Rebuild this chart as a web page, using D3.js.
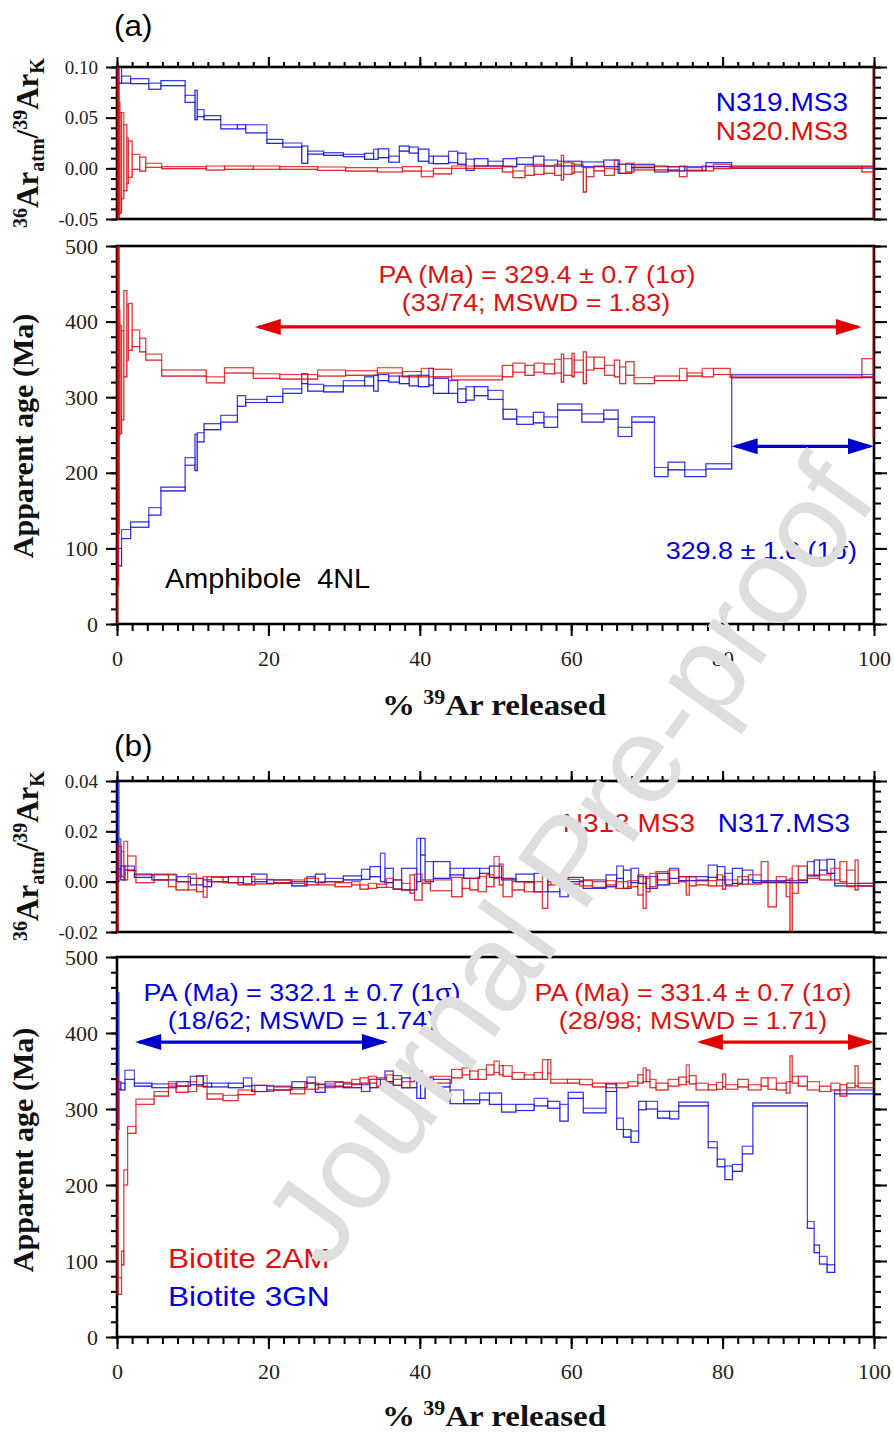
<!DOCTYPE html>
<html>
<head>
<meta charset="utf-8">
<script src="https://cdn.jsdelivr.net/npm/d3@7.9.0/dist/d3.min.js"></script>
<style>
  body { margin: 0; background: #fff; }
  svg { display: block; }
</style>
</head>
<body>
<svg id="fig" width="894" height="1434"></svg>
<script>
// ---------- data: step edges (% 39Ar released) and [low, high] bounds per step ----------

// panel (a), N320.MS3 (red)
const aRedEdges = [0,0.1,0.2,0.3,0.4,0.6,0.9,1.3,1.5,2.0,3.0,3.8,5.9,11.8,14.2,18.0,21.5,26.5,30.2,34.4,
  37.7,40.2,41.8,44.2,50.9,52.3,53.9,55.1,56.4,57.8,58.7,59.0,60.1,60.4,61.6,62.0,63.0,64.4,65.7,66.4,
  67.2,68.3,71.0,74.3,75.3,77.3,78.8,81.0,98.4,99.9,100];
const aRedAge = [[-100,700],[50,650],[120,560],[250,415],[252,395],[270,388],[327,441],[349,422],[362,424],[367,389],
  [360,378],[349,357],[328,336],[319,327],[332,339],[325,331],[324,330],[328,336],[329,335],[332,339],
  [327,334],[327,338],[327,337],[323,328],[327,342],[333,345],[329,342],[333,345],[331,344],[332,350],
  [320,357],[329,351],[327,358],[333,349],[318,360],[336,353],[338,353],[329,342],[327,349],[318,340],
  [329,347],[318,326],[322,328],[322,338],[328,332],[327,338],[330,338],[326,328],[327,351],[247,700]];
const aRedRatio = [[-0.08,0.15],[-0.07,0.13],[-0.06,0.11],[-0.045,0.065],[-0.044,0.055],[-0.03,0.055],[-0.022,0.043],[-0.015,0.03],[-0.009,0.027],[-0.001,0.0138],
  [-0.0027,0.011],[0.001,0.0049],[-0.0003,0.0017],[-0.0017,0.0023],[-0.001,0.0023],[-0.001,0.0023],[-0.001,0.0017],[-0.002,0.0013],[-0.0027,0.0007],[-0.0036,0.0007],
  [-0.0027,0.0017],[-0.0083,-0.0027],[-0.0055,0],[0,0.0023],[-0.0036,0.0023],[-0.0092,-0.0026],[-0.0069,0.0023],[-0.006,0.004],[-0.005,0.0023],[-0.007,0.004],
  [-0.0115,0.0128],[-0.006,0.0056],[-0.005,0.005],[-0.0036,0.004],[-0.0234,0.0007],[-0.0082,0.0007],[-0.0026,0.0023],[-0.007,-0.0003],[-0.001,0.0082],[-0.005,0.004],
  [-0.0036,0.005],[-0.0016,0.0023],[-0.0016,0.0016],[-0.0082,0.0023],[-0.0026,0.0007],[-0.0026,0.0023],[-0.0003,0.004],[0,0.0016],[-0.0036,0.0016],[-0.08,0.15]];

// panel (a), N319.MS3 (blue)
const aBlueEdges = [0,0.6,1.8,4.2,5.8,9.0,10.3,10.6,11.5,13.7,15.9,17.0,19.8,21.9,24.4,25.2,27.3,29.9,32.7,33.9,
  34.5,35.9,37.3,38.6,39.8,41.2,41.8,43.8,45.0,46.1,47.2,49.0,51.0,52.8,55.0,56.4,58.2,61.4,64.3,66.2,
  68.0,71.0,72.8,75.0,77.8,81.2,100];
const aBlueAge = [[77,100],[113,125],[128,135],[144,154],[176,181],[210,220],[203,251],[241,253],[257,265],[267,276],
  [288,302],[293,297],[293,301],[305,311],[318,331],[308,317],[307,315],[315,322],[315,327],[308,329],
  [322,330],[320,328],[318,328],[315,329],[314,329],[316,338],[305,325],[305,322],[293,311],[296,314],
  [302,314],[297,309],[271,284],[264,274],[266,280],[260,274],[283,291],[267,278],[271,283],[248,260],
  [267,274],[195,207],[204,214],[195,204],[205,212],[326,330]];
const aBlueRatio = [[0.084,0.104],[0.084,0.091],[0.0836,0.0885],[0.078,0.084],[0.0816,0.0866],[0.065,0.072],[0.048,0.077],[0.051,0.058],[0.048,0.052],[0.039,0.043],
  [0.039,0.043],[0.035,0.043],[0.0246,0.0285],[0.021,0.025],[0.005,0.022],[0.014,0.017],[0.0128,0.0154],[0.0115,0.0138],[0.0089,0.0148],[0.0089,0.0187],
  [0.0105,0.0193],[0.006,0.012],[0.017,0.022],[0.015,0.021],[0.007,0.019],[0.005,0.012],[0.0046,0.012],[0.0056,0.0168],[0.004,0.015],[-0.002,0.009],
  [0.0023,0.0095],[0.0023,0.007],[0.0016,0.0095],[0.004,0.0105],[0.0023,0.012],[0.0023,0.0082],[0.0023,0.007],[0.0016,0.0063],[0.0016,0.0082],[-0.005,0.004],
  [0.0007,0.004],[-0.0036,0.0023],[-0.0026,0.0016],[-0.002,0.0016],[0.0016,0.0056],[0.0003,0.0023]];

// panel (b), N318.MS3 (red)
const bRedEdges = [0,0.15,0.6,0.9,1.4,2.5,4.9,6.8,7.8,9.4,10.5,11.4,11.9,14.0,16.0,18.2,20.7,22.9,24.8,26.6,
  28.8,31.0,32.1,33.2,34.3,35.6,36.5,37.6,38.7,39.3,40.3,41.4,44.2,45.6,46.6,47.7,48.8,49.8,50.5,51.0,
  52.2,53.8,55.1,56.2,56.9,57.3,59.5,61.1,62.8,64.6,65.9,67.5,68.8,69.5,69.9,70.4,71.2,72.8,74.2,75.2,
  75.6,76.5,78.1,79.2,80.0,80.4,82.0,83.4,85.1,86.0,87.1,88.4,88.9,89.2,90.0,91.2,92.8,94.3,95.5,96.4,
  97.5,97.9,100];
const bRedAge = [[56,343],[56,78],[95,113],[200,220],[268,277],[306,313],[317,323],[330,336],[322,330],[323,336],
  [330,344],[330,344],[313,320],[311,318],[319,325],[323,331],[325,329],[320,326],[326,334],[328,333],
  [329,335],[332,339],[334,341],[334,343],[330,341],[334,345],[331,339],[328,336],[336,350],[343,350],
  [334,341],[334,343],[341,352],[345,354],[339,350],[339,352],[345,358],[348,363],[345,357],[343,357],
  [339,348],[339,345],[339,348],[339,365],[347,365],[334,339],[334,339],[332,339],[329,334],[328,334],
  [328,334],[330,336],[334,345],[336,354],[336,351],[328,339],[325,334],[330,339],[332,342],[336,358],
  [333,344],[325,334],[325,332],[326,335],[329,346],[326,332],[329,339],[325,332],[330,341],[326,341],
  [325,334],[321,336],[336,370],[334,343],[330,343],[325,336],[323,330],[325,334],[317,332],[328,334],
  [330,357],[328,334]];
const bRedRatio = [[-0.025,0.015],[0.0023,0.014],[0.002,0.012],[0.0007,0.016],[0.0044,0.0102],[-0.0004,0.0027],[0.0007,0.003],[-0.002,0.003],[-0.0033,0],[-0.0033,0.003],
  [-0.004,0.0013],[-0.0062,0.002],[0,0.002],[-0.0004,0.002],[-0.0013,0.002],[-0.0009,0.0009],[-0.0004,0.0007],[-0.0007,0.0007],[-0.0013,0.0013],[-0.0013,0],
  [-0.002,-0.0004],[-0.0013,0],[-0.003,-0.0013],[-0.0027,-0.0007],[-0.0023,-0.001],[-0.0023,0.0013],[-0.003,0.0007],[-0.0033,-0.0007],[-0.0046,0.0027],[-0.0073,0.003],
  [-0.0007,0.0007],[-0.0036,0.0007],[-0.006,0.0017],[-0.0027,0.0013],[-0.0033,0.0013],[-0.004,0.002],[-0.002,0.0027],[0.0013,0.01],[-0.0013,0.007],[-0.006,0.0013],
  [-0.0033,0],[-0.004,-0.0004],[-0.004,0],[-0.0106,0.0027],[-0.0013,0.0009],[-0.0013,0.0009],[-0.001,0.0009],[-0.0017,0.0004],[-0.0023,0],[-0.0013,0.0004],
  [-0.0027,0],[-0.002,0.0004],[-0.0053,0.0027],[-0.0106,0.002],[-0.004,0.0013],[-0.002,0.0033],[0.0007,0.004],[-0.0007,0.0046],[0,0.002],[-0.0053,0.002],
  [-0.0017,0.002],[-0.0013,0.0007],[-0.0017,0.0004],[-0.0017,0.0027],[-0.003,0.002],[-0.0017,0.0007],[-0.001,0.002],[-0.001,0.0027],[0,0.008],[-0.01,0],
  [0,0.002],[-0.006,0.0007],[-0.0206,0.0013],[-0.0046,0.0062],[0.0007,0.0062],[0.0013,0.0027],[0.0007,0.0027],[0.0007,0.0053],[0,0.008],[-0.002,0.0046],
  [-0.0033,0.0086],[-0.0017,-0.0007]];

// panel (b), N317.MS3 (blue)
const bBlueEdges = [0,0.25,0.5,1.05,2.3,4.6,7.9,9.7,11.4,12.5,14.7,16.7,17.8,19.8,23.1,25.1,26.2,27.5,29.9,32.3,
  33.4,34.8,35.4,36.5,37.6,39.6,40.1,40.7,41.8,44.0,45.8,47.9,49.2,50.8,52.7,55.1,56.9,58.5,59.6,61.6,
  64.6,66.0,66.9,67.9,68.9,69.9,71.4,73.0,74.2,78.1,79.3,80.3,81.3,82.6,84.0,91.2,92.1,92.8,93.8,94.8,100];
const bBlueAge = [[273,453],[326,336],[325,334],[339,351],[330,334],[328,333],[330,336],[332,343],[329,334],[329,334],
  [328,334],[330,341],[323,331],[325,330],[328,336],[334,342],[322,332],[330,336],[328,333],[323,332],
  [328,339],[328,339],[336,350],[331,344],[328,341],[314,336],[314,336],[330,341],[329,339],[307,325],
  [307,312],[312,321],[306,321],[296,306],[298,306],[304,314],[301,310],[284,306],[314,322],[295,301],
  [323,333],[273,288],[263,273],[256,271],[299,310],[300,310],[288,297],[287,297],[304,309],[249,257],
  [224,234],[207,225],[218,227],[241,251],[304,308],[143,152],[111,121],[96,106],[85,95],[320,325]];
const bBlueRatio = [[0,0.045],[0.005,0.017],[0.0007,0.0062],[0.0046,0.0062],[0.0017,0.003],[0.0007,0.0027],[0,0.002],[-0.0013,0.0013],[-0.002,0.0007],[0,0.0017],
  [-0.0004,0.002],[-0.0009,0.002],[0,0.003],[-0.0007,0.0007],[-0.0017,0],[0,0.002],[-0.0004,0.003],[0,0.0013],[0.0007,0.0023],[0.0009,0.0049],
  [0.002,0.006],[0,0.0113],[-0.0004,0.0053],[-0.003,0.0007],[-0.0033,0.0053],[0,0.0172],[0.0106,0.0172],[0,0.008],[0.0013,0.008],[0.0027,0.0053],
  [0.0013,0.0053],[0.0033,0.0053],[0.0017,0.0062],[0.0007,0.0013],[0,0.003],[-0.004,0.0033],[-0.004,0],[-0.006,-0.0013],[0,0.0017],[-0.0027,0.0007],
  [-0.002,0.0027],[0.0013,0.0062],[-0.0027,0.0046],[-0.0004,0.0053],[-0.0007,0.002],[-0.0027,0.002],[-0.0013,0.0033],[0.0013,0.0053],[0.0004,0.002],[0.0017,0.0066],
  [0.0007,0.006],[-0.0013,0.0033],[-0.0007,0.0053],[0.0007,0.0046],[-0.0004,0.0004],[0.0023,0.008],[0.0023,0.0086],[0.0046,0.0086],[0.0033,0.0089],[-0.0017,-0.0007]];

// plateau arrows: [from %, to %, age level]
const aRedPlateau = [18.2, 98.4, 393];
const aBluePlateau = [81.2, 100, 235];
const bBluePlateau = [2.4, 35.8, 388];
const bRedPlateau = [76.6, 100, 388];

// axis ticks
const xTicks = [0, 20, 40, 60, 80, 100];
const ageTicks = [0, 100, 200, 300, 400, 500];
const aRatioTicks = [-0.05, 0, 0.05, 0.10];
const bRatioTicks = [-0.02, 0, 0.02, 0.04];

// ---------- layout ----------
const RED = '#e00000', BLUE = '#0000e0';
const X0 = 117, X1 = 874;
const svg = d3.select('#fig');
const defs = svg.append('defs');
const x = d3.scaleLinear().domain([0, 100]).range([X0, X1]);

const yARatio = d3.scaleLinear().domain([-0.05, 0.10]).range([219, 67]);
const yAAge = d3.scaleLinear().domain([0, 500]).range([624, 246]);
const yBRatio = d3.scaleLinear().domain([-0.02, 0.04]).range([932, 781]);
const yBAge = d3.scaleLinear().domain([0, 500]).range([1337, 957]);

const serif = 'Liberation Serif, Times New Roman, serif';
const sans = 'Liberation Sans, Arial, sans-serif';

function styleAxis(g, fontSize) {
  g.select('.domain').remove();
  g.selectAll('.tick line').attr('stroke', '#000').attr('stroke-width', 2);
  g.selectAll('.tick text').attr('font-family', serif).attr('font-size', fontSize).attr('fill', '#222');
}

function drawBox(id, y, major, minorStep, fmt, fontSize, topTicks, bottomTicks) {
  const [yb, yt] = y.range();
  const [d0, d1] = y.domain();
  const minor = d3.range(d0, d1 + minorStep / 2, minorStep);
  const xMinor = d3.range(0, 101, 2);
  const g = svg.append('g');

  g.append('g').attr('transform', `translate(${X0},0)`)
    .call(d3.axisLeft(y).tickValues(minor).tickSize(6).tickFormat(''))
    .call(a => styleAxis(a, fontSize));
  g.append('g').attr('transform', `translate(${X0},0)`)
    .call(d3.axisLeft(y).tickValues(major).tickSize(11).tickPadding(8).tickFormat(fmt))
    .call(a => styleAxis(a, fontSize));
  g.append('g').attr('transform', `translate(${X1},0)`)
    .call(d3.axisRight(y).tickValues(minor).tickSize(7).tickFormat(''))
    .call(a => styleAxis(a, fontSize));
  g.append('g').attr('transform', `translate(${X1},0)`)
    .call(d3.axisRight(y).tickValues(major).tickSize(13).tickFormat(''))
    .call(a => styleAxis(a, fontSize));

  if (topTicks) {
    g.append('g').attr('transform', `translate(0,${yt})`)
      .call(d3.axisTop(x).tickValues(xMinor).tickSize(5).tickFormat(''))
      .call(a => styleAxis(a, 22));
    g.append('g').attr('transform', `translate(0,${yt})`)
      .call(d3.axisTop(x).tickValues(xTicks).tickSize(10).tickFormat(''))
      .call(a => styleAxis(a, 22));
  }
  if (bottomTicks) {
    g.append('g').attr('transform', `translate(0,${yb})`)
      .call(d3.axisBottom(x).tickValues(xMinor).tickSize(7).tickFormat(''))
      .call(a => styleAxis(a, 22));
    g.append('g').attr('transform', `translate(0,${yb})`)
      .call(d3.axisBottom(x).tickValues(xTicks).tickSize(12).tickPadding(14).tickFormat(d3.format('d')))
      .call(a => styleAxis(a, 22));
  }

  g.append('rect')
    .attr('x', X0).attr('y', yt).attr('width', X1 - X0).attr('height', yb - yt)
    .attr('fill', 'none').attr('stroke', '#000').attr('stroke-width', 2.6);

  defs.append('clipPath').attr('id', id).append('rect')
    .attr('x', X0 - 2).attr('y', yt).attr('width', X1 - X0 + 4).attr('height', yb - yt);
}

// step spectrum: every step as an outlined box, joined by the upper and lower step lines
function drawSteps(clipId, y, edges, bounds, color) {
  const g = svg.append('g').attr('clip-path', `url(#${clipId})`)
    .attr('fill', 'none').attr('stroke', color).attr('stroke-width', 1.2);
  const n = bounds.length;
  g.selectAll('rect')
    .data(bounds)
    .join('rect')
    .attr('x', (d, i) => x(edges[i]))
    .attr('width', (d, i) => x(edges[i + 1]) - x(edges[i]))
    .attr('y', d => y(d[1]))
    .attr('height', d => y(d[0]) - y(d[1]))
    .attr('stroke-opacity', (d, i) => i % 2 ? 0.5 : 0.65);
  const line = d3.line().x(d => x(d[0])).y(d => y(d[1])).curve(d3.curveStepAfter);
  const hi = bounds.map((b, i) => [edges[i], b[1]]).concat([[edges[n], bounds[n - 1][1]]]);
  const lo = bounds.map((b, i) => [edges[i], b[0]]).concat([[edges[n], bounds[n - 1][0]]]);
  g.append('path').attr('d', line(hi)).attr('stroke-opacity', 0.35);
  g.append('path').attr('d', line(lo)).attr('stroke-opacity', 0.6);
}

function drawArrow(y, plateau, color) {
  const [p0, p1, level] = plateau;
  const xa = x(p0), xb = x(p1), yy = y(level);
  const L = 26, h = 8;
  const g = svg.append('g').attr('fill', color);
  g.append('line').attr('x1', xa + 4).attr('x2', xb - 4).attr('y1', yy).attr('y2', yy)
    .attr('stroke', color).attr('stroke-width', 3.2);
  g.append('path').attr('d', `M${xa},${yy}L${xa + L},${yy - h}L${xa + L},${yy + h}Z`);
  g.append('path').attr('d', `M${xb},${yy}L${xb - L},${yy - h}L${xb - L},${yy + h}Z`);
}

function label(txt, px, py, size, color, anchor, sx) {
  svg.append('text')
    .attr('transform', `translate(${px},${py}) scale(${sx},1)`)
    .attr('text-anchor', anchor)
    .attr('font-family', sans).attr('font-size', size).attr('fill', color)
    .style('white-space', 'pre')
    .text(txt);
}

function ratioTitle(cy) {
  const t = svg.append('text')
    .attr('transform', `translate(38,${cy}) rotate(-90)`)
    .attr('text-anchor', 'middle')
    .attr('font-family', serif).attr('font-weight', 'bold').attr('fill', '#111');
  t.append('tspan').attr('font-size', 20).attr('dy', -11).text('36');
  t.append('tspan').attr('font-size', 31).attr('dy', 11).text('Ar');
  t.append('tspan').attr('font-size', 20).attr('dy', 6).text('atm');
  t.append('tspan').attr('font-size', 31).attr('dy', -6).text('/');
  t.append('tspan').attr('font-size', 20).attr('dy', -11).text('39');
  t.append('tspan').attr('font-size', 31).attr('dy', 11).text('Ar');
  t.append('tspan').attr('font-size', 20).attr('dy', 6).text('K');
}

function ageTitle(cy) {
  svg.append('text')
    .attr('transform', `translate(33,${cy}) rotate(-90)`)
    .attr('text-anchor', 'middle')
    .attr('font-family', serif).attr('font-weight', 'bold').attr('font-size', 30).attr('fill', '#111')
    .text('Apparent age (Ma)');
}

function xTitle(by) {
  const t = svg.append('text')
    .attr('transform', `translate(494,${by}) scale(1.1,1)`)
    .attr('text-anchor', 'middle')
    .attr('font-family', serif).attr('font-weight', 'bold').attr('fill', '#111');
  t.append('tspan').attr('font-size', 30).text('% ');
  t.append('tspan').attr('font-size', 20).attr('dy', -11).text('39');
  t.append('tspan').attr('font-size', 30).attr('dy', 11).text('Ar released');
}

const fmt2 = d => d.toFixed(2);

// ---------- panel (a) ----------
drawBox('clipARatio', yARatio, aRatioTicks, 0.01, fmt2, 19, true, false);
drawBox('clipAAge', yAAge, ageTicks, 20, d3.format('d'), 22, false, true);

drawSteps('clipARatio', yARatio, aBlueEdges, aBlueRatio, BLUE);
drawSteps('clipARatio', yARatio, aRedEdges, aRedRatio, RED);
drawSteps('clipAAge', yAAge, aBlueEdges, aBlueAge, BLUE);
drawSteps('clipAAge', yAAge, aRedEdges, aRedAge, RED);

drawArrow(yAAge, aRedPlateau, RED);
drawArrow(yAAge, aBluePlateau, '#0000cc');

label('(a)', 114, 36, 30, '#000', 'start', 1.05);
label('N319.MS3', 848, 111, 25, '#0000dd', 'end', 1.12);
label('N320.MS3', 848, 140, 25, '#e01010', 'end', 1.12);
label('PA (Ma) = 329.4 \u00b1 0.7 (1\u03c3)', 537, 283, 23, '#e01010', 'middle', 1.17);
label('(33/74; MSWD = 1.83)', 536, 311, 23, '#e01010', 'middle', 1.17);
label('329.8 \u00b1 1.6 (1\u03c3)', 857, 559, 23, '#0000dd', 'end', 1.17);
label('Amphibole  4NL', 165, 588, 28, '#000', 'start', 1.03);

ratioTitle(143);
ageTitle(436);
xTitle(715);

// ---------- panel (b) ----------
drawBox('clipBRatio', yBRatio, bRatioTicks, 0.004, fmt2, 19, true, false);
drawBox('clipBAge', yBAge, ageTicks, 20, d3.format('d'), 22, false, true);

drawSteps('clipBRatio', yBRatio, bBlueEdges, bBlueRatio, BLUE);
drawSteps('clipBRatio', yBRatio, bRedEdges, bRedRatio, RED);
drawSteps('clipBAge', yBAge, bBlueEdges, bBlueAge, BLUE);
drawSteps('clipBAge', yBAge, bRedEdges, bRedAge, RED);

drawArrow(yBAge, bBluePlateau, '#0000cc');
drawArrow(yBAge, bRedPlateau, RED);

label('(b)', 114, 756, 30, '#000', 'start', 1.05);
label('N318.MS3', 695, 832, 25, '#e01010', 'end', 1.12);
label('N317.MS3', 850, 832, 25, '#0000dd', 'end', 1.12);
label('PA (Ma) = 332.1 \u00b1 0.7 (1\u03c3)', 302, 1001, 23, '#0000dd', 'middle', 1.17);
label('(18/62; MSWD = 1.74)', 302, 1029, 23, '#0000dd', 'middle', 1.17);
label('PA (Ma) = 331.4 \u00b1 0.7 (1\u03c3)', 693, 1001, 23, '#e01010', 'middle', 1.17);
label('(28/98; MSWD = 1.71)', 693, 1029, 23, '#e01010', 'middle', 1.17);
label('Biotite 2AM', 168, 1268, 28, '#e01010', 'start', 1.13);
label('Biotite 3GN', 168, 1306, 28, '#0000dd', 'start', 1.13);

ratioTitle(856);
ageTitle(1150);
xTitle(1426);

// ---------- watermark ----------
svg.append('text')
  .attr('transform', 'translate(327,1272) rotate(-54.5)')
  .attr('font-family', sans).attr('font-size', 123).attr('fill', '#dedede')
  .text('Journal Pre-proof');
</script>
</body>
</html>
